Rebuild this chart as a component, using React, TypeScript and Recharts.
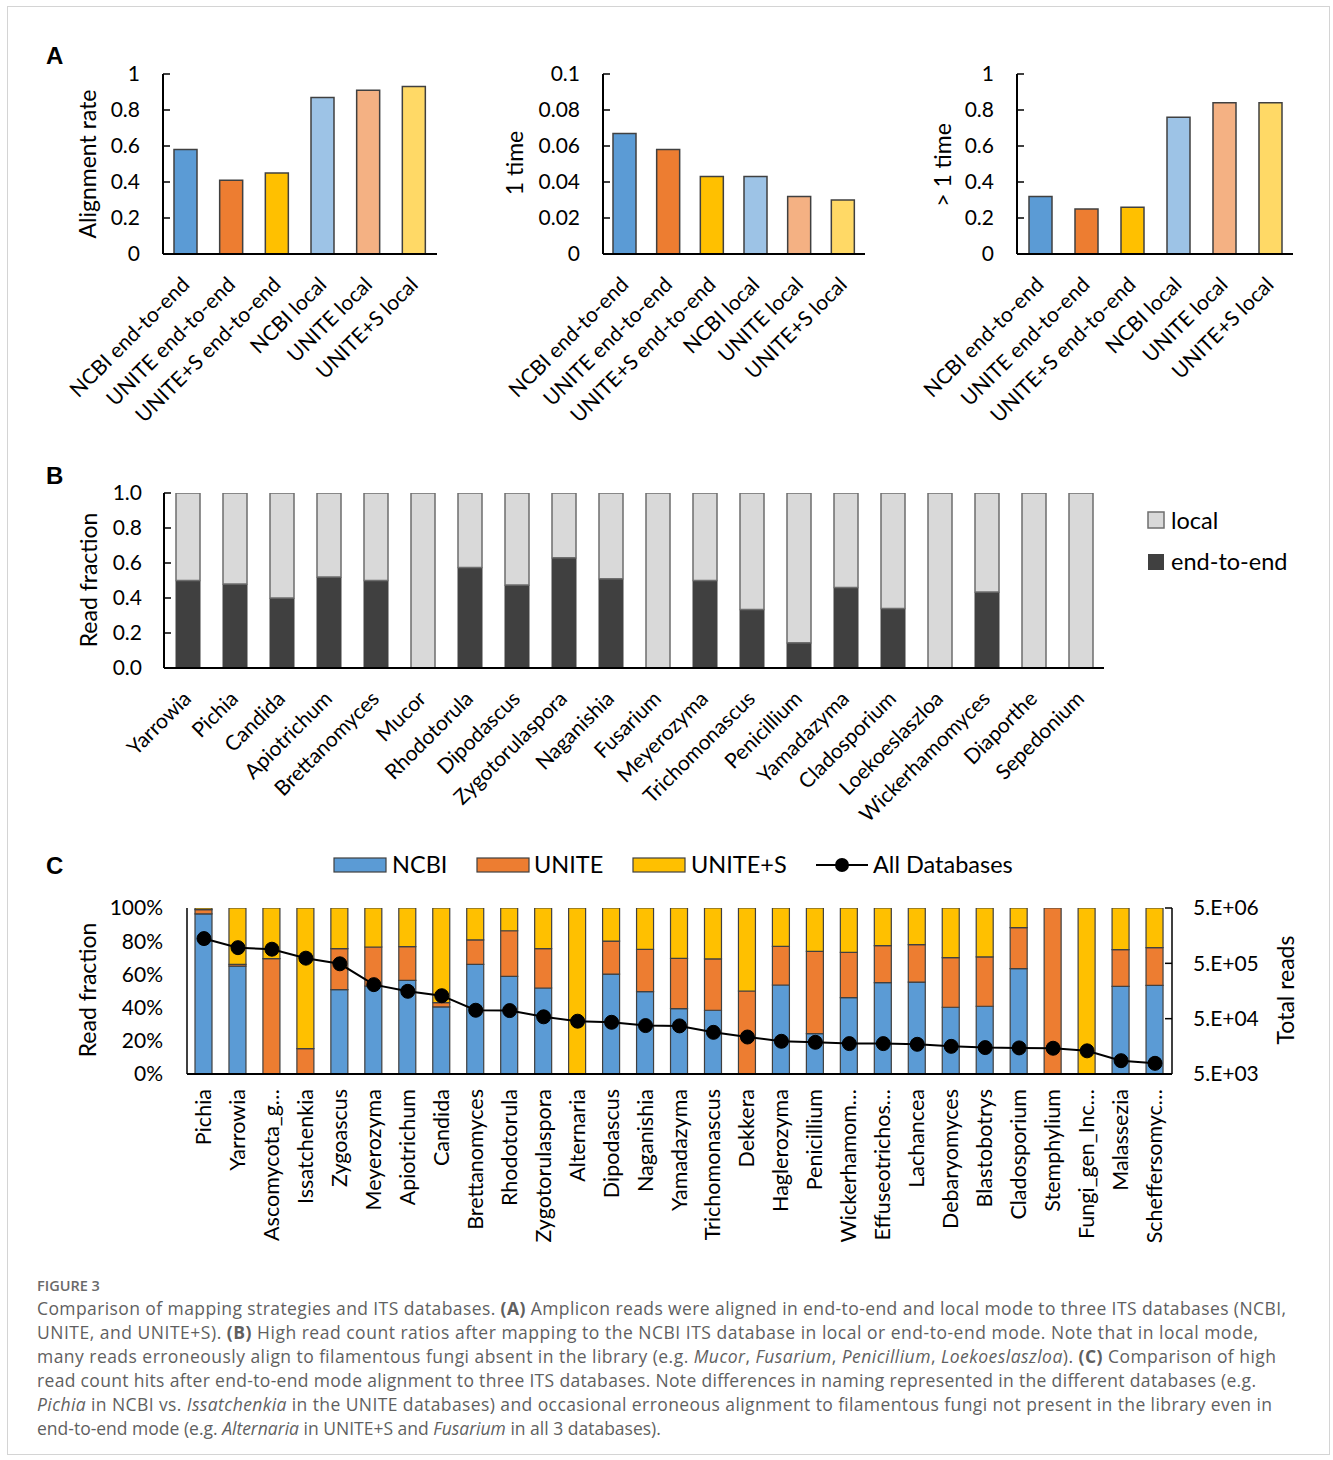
import React from 'react';
import { BarChart, Bar, XAxis, YAxis, ComposedChart, Line, Cell } from 'recharts';

const FONT = "Lato, 'Liberation Sans', sans-serif";
const CAP_FONT = "'Open Sans', Lato, sans-serif";

// ---------- Panel A ----------
const aCategories = ['NCBI end-to-end', 'UNITE end-to-end', 'UNITE+S end-to-end', 'NCBI local', 'UNITE local', 'UNITE+S local'];
const aColors = ['#5B9BD5', '#ED7D31', '#FFC000', '#9DC3E6', '#F4B183', '#FFD966'];
const alignmentRate = [0.58, 0.41, 0.45, 0.87, 0.91, 0.93];
const oneTimeRate = [0.067, 0.058, 0.043, 0.043, 0.032, 0.030];
const multiTimeRate = [0.32, 0.25, 0.26, 0.76, 0.84, 0.84];
const unitTicks = [0, 0.2, 0.4, 0.6, 0.8, 1];
const oneTimeTicks = [0, 0.02, 0.04, 0.06, 0.08, 0.1];

// ---------- Panel B ----------
const bGenera = ['Yarrowia', 'Pichia', 'Candida', 'Apiotrichum', 'Brettanomyces', 'Mucor', 'Rhodotorula', 'Dipodascus', 'Zygotorulaspora', 'Naganishia', 'Fusarium', 'Meyerozyma', 'Trichomonascus', 'Penicillium', 'Yamadazyma', 'Cladosporium', 'Loekoeslaszloa', 'Wickerhamomyces', 'Diaporthe', 'Sepedonium'];
const bEndToEnd = [0.50, 0.48, 0.40, 0.52, 0.50, 0, 0.575, 0.475, 0.63, 0.51, 0, 0.50, 0.335, 0.145, 0.46, 0.34, 0, 0.435, 0, 0];
const bTicks = [0, 0.2, 0.4, 0.6, 0.8, 1];

// ---------- Panel C ----------
const cGenera = ['Pichia', 'Yarrowia', 'Ascomycota_g…', 'Issatchenkia', 'Zygoascus', 'Meyerozyma', 'Apiotrichum', 'Candida', 'Brettanomyces', 'Rhodotorula', 'Zygotorulaspora', 'Alternaria', 'Dipodascus', 'Naganishia', 'Yamadazyma', 'Trichomonascus', 'Dekkera', 'Haglerozyma', 'Penicillium', 'Wickerhamom…', 'Effuseotrichos…', 'Lachancea', 'Debaryomyces', 'Blastobotrys', 'Cladosporium', 'Stemphylium', 'Fungi_gen_Inc…', 'Malassezia', 'Scheffersomyc…'];
const cNCBI = [0.965, 0.65, 0, 0, 0.508, 0.53, 0.564, 0.404, 0.66, 0.588, 0.518, 0, 0.602, 0.496, 0.394, 0.384, 0, 0.536, 0.243, 0.46, 0.55, 0.554, 0.402, 0.408, 0.635, 0, 0, 0.528, 0.534];
const cUNITE = [0.025, 0.01, 0.695, 0.153, 0.247, 0.235, 0.203, 0.026, 0.148, 0.275, 0.237, 0, 0.199, 0.255, 0.303, 0.309, 0.5, 0.233, 0.496, 0.273, 0.223, 0.225, 0.299, 0.297, 0.247, 1, 0, 0.221, 0.227];
const cUNITES = [0.01, 0.34, 0.305, 0.847, 0.245, 0.235, 0.233, 0.57, 0.192, 0.137, 0.245, 1, 0.199, 0.249, 0.303, 0.307, 0.5, 0.231, 0.261, 0.267, 0.227, 0.221, 0.299, 0.295, 0.118, 0, 1, 0.251, 0.239];
const cTotalReads = [1400000, 960000, 900000, 620000, 490000, 206000, 156000, 130000, 71000, 70000, 54000, 45000, 43000, 37500, 37000, 28300, 23300, 19500, 18700, 17700, 17700, 17200, 15800, 15000, 14800, 14600, 13100, 8700, 7800];
const cPercentTicks = [0, 0.2, 0.4, 0.6, 0.8, 1];
const cReadTicks = [5000, 50000, 500000, 5000000];

const tickStyle = { fontSize: 21, fontFamily: FONT, fill: '#000' };

const DiagTick = (props: any) => {
  const { x, y, payload } = props;
  const tx = x + 5;
  const ty = y + 32;
  return (
    <text x={tx} y={ty} transform={`rotate(-45 ${tx} ${ty})`} textAnchor="end" fontSize={21} fontFamily={FONT} fill="#000">
      {payload.value}
    </text>
  );
};

const VertTick = (props: any) => {
  const { x, y, payload } = props;
  const tx = x + 7;
  const ty = y + 15;
  return (
    <text x={tx} y={ty} transform={`rotate(-90 ${tx} ${ty})`} textAnchor="end" fontSize={21.5} fontFamily={FONT} fill="#000">
      {payload.value}
    </text>
  );
};

function RateChart(p: { plotLeft: number; plotRight: number; values: number[]; ticks: number[]; max: number }) {
  const yW = 63;
  const ml = 110;
  const left = p.plotLeft - yW - ml;
  const width = p.plotRight - left + 10;
  const data = aCategories.map((name, i) => ({ name, value: p.values[i] }));
  return (
    <div style={{ position: 'absolute', left, top: 40 }}>
      <BarChart width={width} height={424} data={data} margin={{ top: 34, right: 10, left: ml, bottom: 40 }} barSize={23}>
        <XAxis dataKey="name" height={170} interval={0} axisLine={{ stroke: '#000', strokeWidth: 2 }} tickLine={false} tickSize={0} tickMargin={0} tick={<DiagTick />} />
        <YAxis width={yW} domain={[0, p.max]} ticks={p.ticks} interval={0} allowDataOverflow axisLine={{ stroke: '#000', strokeWidth: 2 }} tickLine={{ stroke: '#000', strokeWidth: 1.5 }} tickSize={-7} tickMargin={30} tick={tickStyle} />
        <Bar dataKey="value" stroke="#404040" strokeWidth={1.5} isAnimationActive={false}>
          {data.map((_, i) => (
            <Cell key={i} fill={aColors[i]} />
          ))}
        </Bar>
      </BarChart>
    </div>
  );
}

function PanelB() {
  const data = bGenera.map((name, i) => ({ name, e2e: bEndToEnd[i], local: 1 - bEndToEnd[i] }));
  return (
    <div style={{ position: 'absolute', left: 60, top: 461 }}>
      <BarChart width={1049} height={397} data={data} margin={{ top: 32, right: 5, left: 40, bottom: 40 }} barSize={24}>
        <XAxis dataKey="name" height={150} interval={0} axisLine={{ stroke: '#000', strokeWidth: 2 }} tickLine={false} tickSize={0} tickMargin={0} tick={<DiagTick />} />
        <YAxis width={64} domain={[0, 1]} ticks={bTicks} interval={0} allowDataOverflow axisLine={{ stroke: '#000', strokeWidth: 2 }} tickLine={{ stroke: '#000', strokeWidth: 1.5 }} tickSize={-7} tickMargin={29} tick={tickStyle} tickFormatter={(v: number) => v.toFixed(1)} />
        <Bar dataKey="e2e" stackId="b" fill="#404040" stroke="#404040" strokeWidth={1} isAnimationActive={false} />
        <Bar dataKey="local" stackId="b" fill="#D9D9D9" stroke="#6E6E6E" strokeWidth={1.5} isAnimationActive={false} />
      </BarChart>
    </div>
  );
}

function PanelC() {
  const data = cGenera.map((name, i) => ({ name, ncbi: cNCBI[i], unite: cUNITE[i], unites: cUNITES[i], total: cTotalReads[i] }));
  return (
    <div style={{ position: 'absolute', left: 107, top: 878 }}>
      <ComposedChart width={1165} height={376} data={data} margin={{ top: 30, right: 0, left: 0, bottom: 0 }} barSize={17}>
        <XAxis dataKey="name" height={180} interval={0} axisLine={{ stroke: '#000', strokeWidth: 2 }} tickLine={false} tickSize={0} tickMargin={0} tick={<VertTick />} />
        <YAxis yAxisId="left" width={80} domain={[0, 1]} ticks={cPercentTicks} interval={0} allowDataOverflow axisLine={{ stroke: '#000', strokeWidth: 1.5 }} tickLine={false} tickSize={0} tickMargin={24} tick={tickStyle} tickFormatter={(v: number) => `${Math.round(v * 100)}%`} />
        <YAxis yAxisId="right" orientation="right" width={100} scale="log" domain={[5000, 5000000]} ticks={cReadTicks} interval={0} allowDataOverflow axisLine={{ stroke: '#000', strokeWidth: 1.5 }} tickLine={{ stroke: '#000', strokeWidth: 1.5 }} tickSize={-7} tickMargin={28} tick={{ ...tickStyle, textAnchor: 'start' }} tickFormatter={(v: number) => `5.E+0${Math.round(Math.log10(v / 5))}`} />
        <Bar yAxisId="left" dataKey="ncbi" stackId="c" fill="#5B9BD5" stroke="#404040" strokeWidth={1.2} isAnimationActive={false} />
        <Bar yAxisId="left" dataKey="unite" stackId="c" fill="#ED7D31" stroke="#404040" strokeWidth={1.2} isAnimationActive={false} />
        <Bar yAxisId="left" dataKey="unites" stackId="c" fill="#FFC000" stroke="#404040" strokeWidth={1.2} isAnimationActive={false} />
        <Line yAxisId="right" dataKey="total" stroke="#000" strokeWidth={2} dot={{ r: 7, fill: '#000', stroke: '#000', strokeWidth: 1 }} activeDot={false} isAnimationActive={false} />
      </ComposedChart>
    </div>
  );
}

const VTitle = (p: { x: number; y: number; children: React.ReactNode; size?: number }) => (
  <text x={p.x} y={p.y} transform={`rotate(-90 ${p.x} ${p.y})`} textAnchor="middle" dominantBaseline="central" fontSize={p.size || 23} fontFamily={FONT} fill="#000">
    {p.children}
  </text>
);

export default function App() {
  const capStyle = { fontFamily: CAP_FONT, fontSize: 17.5, fill: '#5f5f5f' } as const;
  return (
    <div style={{ position: 'absolute', left: 0, top: 0, width: 1333, height: 1460, background: '#fff' }}>
      <div style={{ position: 'absolute', left: 7, top: 6, width: 1323, height: 1449, border: '1px solid #d4d4d4', boxSizing: 'border-box' }} />
      <RateChart plotLeft={163} plotRight={437} values={alignmentRate} ticks={unitTicks} max={1} />
      <RateChart plotLeft={603} plotRight={865} values={oneTimeRate} ticks={oneTimeTicks} max={0.1} />
      <RateChart plotLeft={1017} plotRight={1293} values={multiTimeRate} ticks={unitTicks} max={1} />
      <PanelB />
      <PanelC />
      <svg width={1333} height={1460} style={{ position: 'absolute', left: 0, top: 0, pointerEvents: 'none' }}>
        <g fontFamily="'Liberation Sans', Arial, sans-serif" fontWeight="bold" fontSize={24} fill="#000">
          <text x={46} y={64}>A</text>
          <text x={46} y={484}>B</text>
          <text x={46} y={874}>C</text>
        </g>
        <VTitle x={87} y={164}>Alignment rate</VTitle>
        <VTitle x={514} y={163}>1 time</VTitle>
        <VTitle x={942} y={165}>{'> 1 time'}</VTitle>
        <VTitle x={88} y={580}>Read fraction</VTitle>
        <VTitle x={87} y={990}>Read fraction</VTitle>
        <VTitle x={1285} y={990}>Total reads</VTitle>

        {/* Legend B */}
        <rect x={1148} y={512} width={16} height={16} fill="#D9D9D9" stroke="#6E6E6E" strokeWidth={1.5} />
        <text x={1171} y={529} fontSize={23.5} fontFamily={FONT} fill="#000">local</text>
        <rect x={1148} y={554} width={16} height={16} fill="#404040" />
        <text x={1171} y={570} fontSize={23.5} fontFamily={FONT} fill="#000">end-to-end</text>

        {/* Legend C */}
        <rect x={334} y={858} width={52} height={14} fill="#5B9BD5" stroke="#404040" strokeWidth={1.2} />
        <text x={392} y={873} fontSize={23.5} fontFamily={FONT} fill="#000">NCBI</text>
        <rect x={477} y={858} width={52} height={14} fill="#ED7D31" stroke="#404040" strokeWidth={1.2} />
        <text x={534} y={873} fontSize={23.5} fontFamily={FONT} fill="#000">UNITE</text>
        <rect x={633} y={858} width={52} height={14} fill="#FFC000" stroke="#404040" strokeWidth={1.2} />
        <text x={691} y={873} fontSize={23.5} fontFamily={FONT} fill="#000">UNITE+S</text>
        <line x1={816} y1={865} x2={868} y2={865} stroke="#000" strokeWidth={2} />
        <circle cx={842} cy={865} r={7} fill="#000" />
        <text x={873} y={873} fontSize={23.5} fontFamily={FONT} fill="#000">All Databases</text>

        {/* Caption */}
        <text x={37} y={1291} fontFamily={CAP_FONT} fontSize={14.5} fontWeight={600} fill="#6a6a6a">FIGURE 3</text>
        <text x={37} y={1315} textLength={1249} lengthAdjust="spacing" {...capStyle}>
          <tspan>{'Comparison of mapping strategies and ITS databases. '}</tspan>
          <tspan fontWeight="bold">(A)</tspan>
          <tspan>{' Amplicon reads were aligned in end-to-end and local mode to three ITS databases (NCBI,'}</tspan>
        </text>
        <text x={37} y={1339} textLength={1221} lengthAdjust="spacing" {...capStyle}>
          <tspan>{'UNITE, and UNITE+S). '}</tspan>
          <tspan fontWeight="bold">(B)</tspan>
          <tspan>{' High read count ratios after mapping to the NCBI ITS database in local or end-to-end mode. Note that in local mode,'}</tspan>
        </text>
        <text x={37} y={1363} textLength={1239} lengthAdjust="spacing" {...capStyle}>
          <tspan>{'many reads erroneously align to filamentous fungi absent in the library (e.g. '}</tspan>
          <tspan fontStyle="italic">Mucor</tspan>
          <tspan>{', '}</tspan>
          <tspan fontStyle="italic">Fusarium</tspan>
          <tspan>{', '}</tspan>
          <tspan fontStyle="italic">Penicillium</tspan>
          <tspan>{', '}</tspan>
          <tspan fontStyle="italic">Loekoeslaszloa</tspan>
          <tspan>{'). '}</tspan>
          <tspan fontWeight="bold">(C)</tspan>
          <tspan>{' Comparison of high'}</tspan>
        </text>
        <text x={37} y={1387} textLength={1219} lengthAdjust="spacing" {...capStyle}>
          <tspan>{'read count hits after end-to-end mode alignment to three ITS databases. Note differences in naming represented in the different databases (e.g.'}</tspan>
        </text>
        <text x={37} y={1411} textLength={1235} lengthAdjust="spacing" {...capStyle}>
          <tspan fontStyle="italic">Pichia</tspan>
          <tspan>{' in NCBI vs. '}</tspan>
          <tspan fontStyle="italic">Issatchenkia</tspan>
          <tspan>{' in the UNITE databases) and occasional erroneous alignment to filamentous fungi not present in the library even in'}</tspan>
        </text>
        <text x={37} y={1435} {...capStyle}>
          <tspan>{'end-to-end mode (e.g. '}</tspan>
          <tspan fontStyle="italic">Alternaria</tspan>
          <tspan>{' in UNITE+S and '}</tspan>
          <tspan fontStyle="italic">Fusarium</tspan>
          <tspan>{' in all 3 databases).'}</tspan>
        </text>
      </svg>
    </div>
  );
}
